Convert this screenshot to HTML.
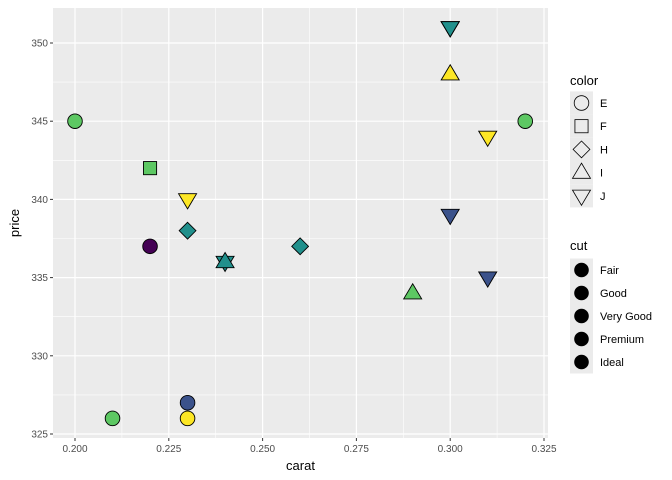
<!DOCTYPE html>
<html><head><meta charset="utf-8"><style>body{margin:0;background:#fff}svg{display:block;font-family:"Liberation Sans",sans-serif}</style></head>
<body>
<svg id="c" width="672" height="480"></svg>
<script>
const carat=[0.23,0.21,0.23,0.29,0.31,0.24,0.24,0.26,0.22,0.23,0.30,0.23,0.22,0.31,0.20,0.32,0.30,0.30,0.30,0.30];
const price=[326,326,327,334,335,336,336,337,337,338,339,340,342,344,345,345,348,351,351,351];
const cut=["Ideal","Premium","Good","Premium","Good","Very Good","Very Good","Very Good","Fair","Very Good","Good","Ideal","Premium","Ideal","Premium","Premium","Ideal","Good","Good","Very Good"];
const color=["E","E","E","I","J","J","I","H","E","H","J","J","F","J","E","E","I","J","J","J"];
const cutLevels=["Fair","Good","Very Good","Premium","Ideal"];
const colorLevels=["E","F","H","I","J"];
const cutFill=["#440154","#3B528B","#21908C","#5DC863","#FDE725"];
const xTicks=[0.2,0.225,0.25,0.275,0.3,0.325];
const xTickLabels=["0.200","0.225","0.250","0.275","0.300","0.325"];
const yTicks=[325,330,335,340,345,350];

const svg=document.getElementById('c');const NS="http://www.w3.org/2000/svg";
function mk(t,a,p){const e=document.createElementNS(NS,t);for(const k in a)e.setAttribute(k,a[k]);(p||svg).appendChild(e);return e;}
const L=53,R=548,T=8,B=438;
const X=v=>75+(v-0.2)/0.125*469;
const Y=v=>434-(v-325)*15.64;
const bg=mk('rect',{x:L,y:T,width:R-L,height:B-T,fill:'#EBEBEB'});


for(let i=0;i<xTicks.length-1;i++){const m=(xTicks[i]+xTicks[i+1])/2;const g=mk('line',{x1:X(m),x2:X(m),y1:T,y2:B,stroke:'#fff','stroke-width':0.6});}
for(let i=0;i<yTicks.length-1;i++){const m=(yTicks[i]+yTicks[i+1])/2;const g=mk('line',{x1:L,x2:R,y1:Y(m),y2:Y(m),stroke:'#fff','stroke-width':0.6});}
xTicks.forEach((v,i)=>{const g=mk('line',{x1:X(v),x2:X(v),y1:T,y2:B,stroke:'#fff','stroke-width':1.2});
const tk=mk('line',{x1:X(v),x2:X(v),y1:B,y2:B+3,stroke:'#333'});
const t=mk('text',{x:X(v),y:B+14,'text-anchor':'middle','font-size':10,fill:'#4d4d4d'});t.textContent=xTickLabels[i];});
yTicks.forEach(v=>{const g=mk('line',{x1:L,x2:R,y1:Y(v),y2:Y(v),stroke:'#fff','stroke-width':1.2});
const tk=mk('line',{x1:L-3,x2:L,y1:Y(v),y2:Y(v),stroke:'#333'});
const t=mk('text',{x:L-5,y:Y(v)+3.5,'text-anchor':'end','font-size':10,fill:'#4d4d4d'});t.textContent=v;});
function shape(s,cx,cy,r,fill,p){let e;
if(s==="E")e=mk('circle',{cx,cy,r},p);
else if(s==="F")e=mk('rect',{x:cx-r*0.9,y:cy-r*0.9,width:r*1.8,height:r*1.8},p);
else if(s==="H"){const d=r*1.15;e=mk('polygon',{points:`${cx},${cy-d} ${cx+d},${cy} ${cx},${cy+d} ${cx-d},${cy}`},p);}
else if(s==="I"){const d=r*1.3;e=mk('polygon',{points:`${cx},${cy-d} ${cx+d*0.95},${cy+d*0.6} ${cx-d*0.95},${cy+d*0.6}`},p);}
else {const d=r*1.3;e=mk('polygon',{points:`${cx},${cy+d} ${cx+d*0.95},${cy-d*0.6} ${cx-d*0.95},${cy-d*0.6}`},p);}
e.setAttribute('fill',fill);e.setAttribute('stroke','#000');e.setAttribute('stroke-width',0.9);return e;}
carat.forEach((c,i)=>{const e=shape(color[i],X(c),Y(price[i]),7.3,cutFill[cutLevels.indexOf(cut[i])]);

});
const xt=mk('text',{x:(L+R)/2,y:470,'text-anchor':'middle','font-size':13,fill:'#000'});xt.textContent='carat';

const yt=mk('text',{x:0,y:0,transform:`translate(19,${(T+B)/2}) rotate(-90)`,'text-anchor':'middle','font-size':13,fill:'#000'});yt.textContent='price';

const t1=mk('text',{x:570,y:85,'font-size':13});t1.textContent='color';
colorLevels.forEach((s,i)=>{const cy=103+i*23.2;const g=mk('g',{});
mk('rect',{x:570,y:cy-11.6,width:23,height:23.2,fill:'#EBEBEB'},g);shape(s,581.5,cy,7.3,'none',g).setAttribute('stroke-width',0.8);
const t=mk('text',{x:600,y:cy+4,'font-size':11},g);t.textContent=s;});
const t2=mk('text',{x:570,y:250,'font-size':13});t2.textContent='cut';
cutLevels.forEach((s,i)=>{const cy=270+i*23;const g=mk('g',{});
mk('rect',{x:570,y:cy-11.5,width:23,height:23,fill:'#EBEBEB'},g);mk('circle',{cx:581.5,cy,r:7.3,fill:'#000'},g);
const t=mk('text',{x:600,y:cy+4,'font-size':11},g);t.textContent=s;});
</script>
</body></html>
